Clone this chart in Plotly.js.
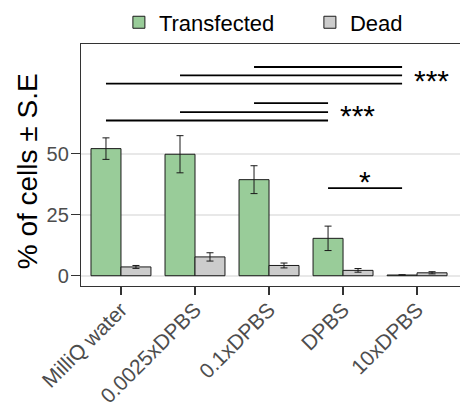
<!DOCTYPE html>
<html>
<head>
<meta charset="utf-8">
<script src="https://cdn.plot.ly/plotly-3.0.1.min.js"></script>
<style>html,body{margin:0;padding:0;background:#fff;}#chart{width:460px;height:407px;}</style>
</head>
<body>
<div id="chart"></div>
<script>
// ---- data ----
const categories = ['MilliQ water', '0.0025xDPBS', '0.1xDPBS', 'DPBS', '10xDPBS'];
const transfected = [52.0, 49.7, 39.3, 15.3, 0.3];
const transfectedSE = [4.4, 7.6, 5.7, 5.0, 0.1];
const dead = [3.6, 7.7, 4.2, 2.2, 1.2];
const deadSE = [0.6, 1.7, 1.0, 0.75, 0.45];
const seriesNames = ['Transfected', 'Dead'];
const yTicks = [0, 25, 50];
const yTitle = '% of cells ± S.E';

// significance brackets (between Transfected bars)
const sigFrom = ['MilliQ water', '0.0025xDPBS', '0.1xDPBS', 'MilliQ water', '0.0025xDPBS', '0.1xDPBS', 'DPBS'];
const sigTo = ['10xDPBS', '10xDPBS', '10xDPBS', 'DPBS', 'DPBS', 'DPBS', '10xDPBS'];
const sigY = [78.6, 82.0, 85.4, 63.5, 66.9, 70.6, 35.8];
const sigLabels = ['***', '***', '*'];
const sigLabelFrom = ['10xDPBS', 'DPBS', 'DPBS'];
const sigLabelTo = ['10xDPBS', 'DPBS', '10xDPBS'];
const sigLabelY = [79.7, 65.4, 38.6];

// ---- build ----
const idx = c => categories.indexOf(c);
const xs = categories.map((c, i) => i);
const dodge = 0.2025;
const FONT = 'Liberation Sans, Arial, sans-serif';

const traces = [
  {
    type: 'bar', name: seriesNames[0], x: xs, y: transfected,
    marker: {color: '#99CC99', line: {color: '#1a1a1a', width: 1}},
    error_y: {type: 'data', array: transfectedSE, visible: true, color: '#1a1a1a', thickness: 1, width: 3.5}
  },
  {
    type: 'bar', name: seriesNames[1], x: xs, y: dead,
    marker: {color: '#CCCCCC', line: {color: '#1a1a1a', width: 1}},
    error_y: {type: 'data', array: deadSE, visible: true, color: '#1a1a1a', thickness: 1, width: 3.5}
  }
];

sigFrom.forEach((f, i) => {
  traces.push({
    type: 'scatter', mode: 'lines', showlegend: false, hoverinfo: 'skip',
    x: [idx(f) - dodge, idx(sigTo[i]) - dodge], y: [sigY[i], sigY[i]],
    line: {color: '#000', width: 1.8}
  });
});

const annotations = sigLabels.map((t, i) => {
  const single = sigLabelFrom[i] !== sigLabelTo[i];
  const x = single ? ((idx(sigLabelFrom[i]) + idx(sigLabelTo[i])) / 2 - dodge) : (idx(sigLabelTo[i]) - dodge + 0.14);
  return {
    text: t, x: x, y: sigLabelY[i], xref: 'x', yref: 'y',
    xanchor: single ? 'center' : 'left', yanchor: 'middle', showarrow: false,
    font: {family: FONT, size: 30, color: '#000'}
  };
});
annotations.push({
  text: yTitle, xref: 'paper', yref: 'paper', x: -0.1425, y: 0.474,
  xanchor: 'center', yanchor: 'middle', textangle: -90, showarrow: false,
  font: {family: FONT, size: 28, color: '#000'}
});

const layout = {
  width: 460, height: 407,
  margin: {l: 81, r: 0, t: 44, b: 121, autoexpand: false},
  paper_bgcolor: '#fff', plot_bgcolor: '#fff',
  font: {family: FONT},
  barmode: 'group', bargap: 0.19, bargroupgap: 0,
  showlegend: true,
  legend: {
    orientation: 'h', x: 0.1, xanchor: 'left', y: 1.089, yanchor: 'middle',
    font: {size: 22, color: '#000'}, traceorder: 'normal', entrywidth: 146
  },
  xaxis: {
    range: [-0.54, 4.58], tickmode: 'array', tickvals: xs, ticktext: categories,
    tickangle: -45, ticks: 'outside', ticklen: 8, tickwidth: 1.2, tickcolor: '#333',
    tickfont: {size: 21, color: '#4d4d4d'}, ticklabelstandoff: -6,
    showline: true, linecolor: '#333', linewidth: 1.2, mirror: true,
    showgrid: false, zeroline: false
  },
  yaxis: {
    range: [-4.2, 94.8], tickmode: 'array', tickvals: yTicks,
    ticks: 'outside', ticklen: 9, tickwidth: 1.2, tickcolor: '#333',
    tickfont: {size: 20, color: '#4d4d4d'}, ticklabelstandoff: -2,
    showline: true, linecolor: '#333', linewidth: 1.2, mirror: true,
    showgrid: true, gridcolor: '#e8e8e8', gridwidth: 2, zeroline: false
  },
  annotations: annotations
};

Plotly.newPlot('chart', traces, layout, {displayModeBar: false, staticPlot: true});
</script>
</body>
</html>
